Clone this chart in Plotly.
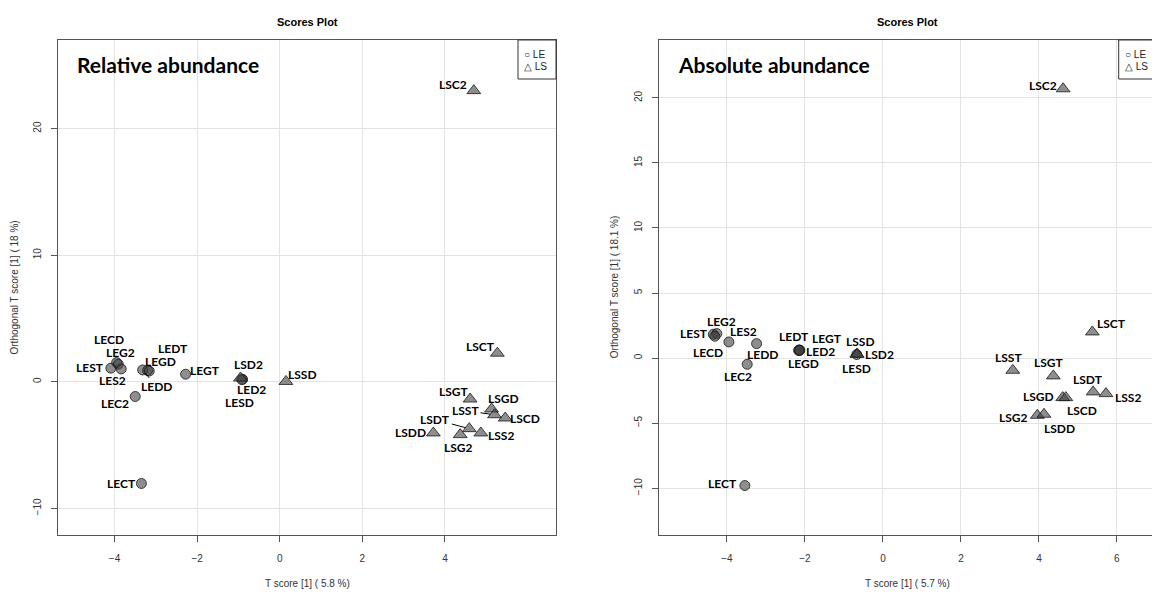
import plotly.graph_objects as go

# ---------------- data ----------------
# Left panel: Relative abundance
rel_le_names = ["LECD", "LEG2", "LEST", "LES2", "LEDD", "LEGD", "LEDT", "LEGT", "LEC2", "LED2", "LESD", "LECT"]
rel_le_x = [-3.95, -3.91, -4.09, -3.84, -3.32, -3.20, -3.16, -2.28, -3.50, -0.90, -0.92, -3.35]
rel_le_y = [1.52, 1.39, 1.08, 1.02, 0.94, 0.90, 0.85, 0.60, -1.16, 0.20, 0.18, -8.03]

rel_ls_names = ["LSD2", "LSSD", "LSC2", "LSCT", "LSGT", "LSGD", "LSST", "LSCD", "LSDT", "LSS2", "LSG2", "LSDD"]
rel_ls_x = [-0.95, 0.15, 4.70, 5.27, 4.61, 5.13, 5.20, 5.46, 4.59, 4.87, 4.37, 3.72]
rel_ls_y = [0.30, 0.03, 23.0, 2.26, -1.36, -2.15, -2.60, -2.86, -3.70, -4.04, -4.17, -4.04]

# Right panel: Absolute abundance
abs_le_names = ["LEST", "LEG2", "LECD", "LES2", "LEDD", "LEC2", "LEDT", "LEGT", "LED2", "LEGD", "LESD", "LECT"]
abs_le_x = [-4.35, -4.26, -4.31, -3.95, -3.24, -3.48, -2.15, -2.13, -2.16, -2.14, -0.67, -3.54]
abs_le_y = [1.83, 1.88, 1.68, 1.24, 1.11, -0.48, 0.62, 0.60, 0.58, 0.61, 0.27, -9.8]

abs_ls_names = ["LSSD", "LSD2", "LSC2", "LSCT", "LSST", "LSGT", "LSDT", "LSS2", "LSGD", "LSCD", "LSG2", "LSDD"]
abs_ls_x = [-0.67, -0.66, 4.62, 5.37, 3.33, 4.37, 5.39, 5.72, 4.61, 4.69, 3.96, 4.13]
abs_ls_y = [0.31, 0.29, 20.7, 2.01, -0.94, -1.37, -2.60, -2.73, -3.04, -3.04, -4.40, -4.32]

rel_xticks = [-4, -2, 0, 2, 4]
rel_yticks = [-10, 0, 10, 20]
abs_xticks = [-4, -2, 0, 2, 4, 6]
abs_yticks = [-10, -5, 0, 5, 10, 15, 20]

titles = ["Scores Plot", "Scores Plot"]
panel_labels = ["Relative abundance", "Absolute abundance"]
x_titles = ["T score [1] ( 5.8 %)", "T score [1] ( 5.7 %)"]
y_titles = ["Orthogonal T score [1] ( 18 %)", "Orthogonal T score [1] ( 18.1 %)"]
legend_names = ["LE", "LS"]

# ---------------- label placement (pixel offsets: dx right, dy down) ----------------
rel_offsets = {
    "LECD": (-8, -23), "LEG2": (2, -12), "LEST": (-21, -1), "LES2": (-9, 12),
    "LEDD": (14, 17), "LEGD": (13, -9), "LEDT": (24, -23), "LEGT": (19, -4),
    "LEC2": (-20, 7), "LED2": (9, 10), "LESD": (-2, 23), "LECT": (-20, 0),
    "LSD2": (8, -14), "LSSD": (17, -7), "LSC2": (-21, -6), "LSCT": (-17, -7),
    "LSGT": (-16, -8), "LSGD": (12, -11), "LSST": (-29, -4), "LSCD": (20, 0),
    "LSDT": (-34, -9), "LSS2": (20, 3), "LSG2": (-2, 13), "LSDD": (-23, 0),
}
rel_leaders = {"LEDD", "LSST", "LSDT"}
abs_offsets = {
    "LEST": (-19, -1), "LEG2": (5, -12), "LECD": (-7, 16), "LES2": (15, -10),
    "LEDD": (6, 11), "LEC2": (-9, 12), "LEDT": (-5, -14), "LEGT": (27, -12),
    "LED2": (22, 1), "LEGD": (4, 13), "LESD": (0, 14), "LECT": (-22, -2),
    "LSSD": (4, -13), "LSD2": (22, 0), "LSC2": (-20, -3), "LSCT": (19, -8),
    "LSST": (-4, -13), "LSGT": (-4, -13), "LSDT": (-5, -12), "LSS2": (22, 4),
    "LSGD": (-24, -1), "LSCD": (16, 13), "LSG2": (-24, 2), "LSDD": (16, 14),
}
abs_leaders = set()

W, H = 1152, 592
def px(x):
    return x / W
def py(y):
    return 1 - y / H

# panel boxes in pixels
L_BOX = (58, 40, 556, 535)
R_BOX = (658.7, 40, 1156.7, 535)

fill = "rgba(60,60,60,0.58)"
edge = "rgba(25,25,25,0.8)"
label_font = dict(family="Lato, Open Sans, sans-serif", size=12, color="black")
axis_font = dict(family="Liberation Sans, Arial, sans-serif", size=10, color="#333333")

fig = go.Figure()

def add_panel(xa, ya, le_names, le_x, le_y, ls_names, ls_x, ls_y):
    fig.add_trace(go.Scatter(
        x=le_x, y=le_y, mode="markers", xaxis=xa, yaxis=ya, showlegend=False,
        marker=dict(symbol="circle", size=10, color=fill, line=dict(color=edge, width=1)),
        hoverinfo="text", text=le_names))
    fig.add_trace(go.Scatter(
        x=ls_x, y=ls_y, mode="markers", xaxis=xa, yaxis=ya, showlegend=False,
        marker=dict(symbol="triangle-up", size=12, color=fill, line=dict(color=edge, width=1)),
        hoverinfo="text", text=ls_names))

add_panel("x", "y", rel_le_names, rel_le_x, rel_le_y, rel_ls_names, rel_ls_x, rel_ls_y)
add_panel("x2", "y2", abs_le_names, abs_le_x, abs_le_y, abs_ls_names, abs_ls_x, abs_ls_y)

annotations = []

def add_labels(xa, ya, names, xs, ys, offsets, leaders):
    for n, x, y in zip(names, xs, ys):
        dx, dy = offsets[n]
        if n in leaders:
            annotations.append(dict(
                x=x, y=y, xref=xa, yref=ya, text="<b>%s</b>" % n, showarrow=True,
                arrowhead=0, arrowwidth=1, arrowcolor="black", ax=dx, ay=dy,
                standoff=4, font=label_font))
        else:
            annotations.append(dict(
                x=x, y=y, xref=xa, yref=ya, text="<b>%s</b>" % n, showarrow=False,
                xanchor="center", yanchor="middle",
                xshift=dx, yshift=-dy, font=label_font))

add_labels("x", "y", rel_le_names, rel_le_x, rel_le_y, rel_offsets, rel_leaders)
add_labels("x", "y", rel_ls_names, rel_ls_x, rel_ls_y, rel_offsets, rel_leaders)
add_labels("x2", "y2", abs_le_names, abs_le_x, abs_le_y, abs_offsets, abs_leaders)
add_labels("x2", "y2", abs_ls_names, abs_ls_x, abs_ls_y, abs_offsets, abs_leaders)

def paper_text(x, y, text, font, xanchor="center", angle=0):
    annotations.append(dict(x=px(x), y=py(y), xref="paper", yref="paper", text=text,
                            xanchor=xanchor, yanchor="middle", textangle=angle,
                            showarrow=False, font=font))

shapes = []
for i, box in enumerate([L_BOX, R_BOX]):
    x0, y0, x1, y1 = box
    cx = (x0 + x1) / 2
    paper_text(cx, 22, "<b>%s</b>" % titles[i], dict(family="Liberation Sans, Arial", size=11, color="black"))
    paper_text(x0 + 17, 65, "<b>%s</b>" % panel_labels[i],
               dict(family="Lato, Open Sans, sans-serif", size=21, color="black"), xanchor="left")
    paper_text(cx, 583, x_titles[i], axis_font)
    paper_text(x0 - 44, (y0 + y1) / 2, y_titles[i], axis_font, angle=-90)
    # legend box
    lx0 = x1 - 38
    shapes.append(dict(type="rect", xref="paper", yref="paper", x0=px(lx0), x1=px(x1), y0=py(79), y1=py(40),
                       line=dict(color="#333333", width=1), fillcolor="white", layer="above"))
    leg_font = dict(family="Liberation Sans, Arial", size=10, color="#222222")
    paper_text(lx0 + 4, 55, "\u25CB " + legend_names[0], leg_font, xanchor="left")
    paper_text(lx0 + 4, 67, "\u25B3 " + legend_names[1], leg_font, xanchor="left")

common_x = dict(showgrid=True, gridcolor="#e3e3e3", gridwidth=1, zeroline=False, showline=True,
                linecolor="#555555", linewidth=1, mirror=True, ticks="outside", ticklen=6,
                tickcolor="#555555", tickfont=axis_font, ticklabelstandoff=8)
common_y = dict(showgrid=True, gridcolor="#e3e3e3", gridwidth=1, zeroline=False, showline=True,
                linecolor="#555555", linewidth=1, ticks="outside", ticklen=6,
                tickcolor="#555555", tickfont=axis_font, tickangle=-90, ticklabelstandoff=6)

fig.update_layout(
    width=W, height=H, margin=dict(l=0, r=0, t=0, b=0),
    paper_bgcolor="white", plot_bgcolor="white", showlegend=False,
    xaxis=dict(domain=[px(L_BOX[0]), px(L_BOX[2])], range=[-5.37, 6.69], tickvals=rel_xticks,
               anchor="y", **common_x),
    yaxis=dict(domain=[py(L_BOX[3]), py(L_BOX[1])], range=[-12.1, 27.0], tickvals=rel_yticks,
               anchor="x", mirror=True, **common_y),
    xaxis2=dict(domain=[px(R_BOX[0]), 1.0], range=[-5.75, 6.9], tickvals=abs_xticks,
                anchor="y2", **common_x),
    yaxis2=dict(domain=[py(R_BOX[3]), py(R_BOX[1])], range=[-13.6, 24.45], tickvals=abs_yticks,
                anchor="x2", mirror=False, **common_y),
    annotations=annotations, shapes=shapes,
)

fig.write_html("out.html", config={"displayModeBar": False},
               post_script="document.body.style.margin='0px';document.body.style.overflow='hidden';")
